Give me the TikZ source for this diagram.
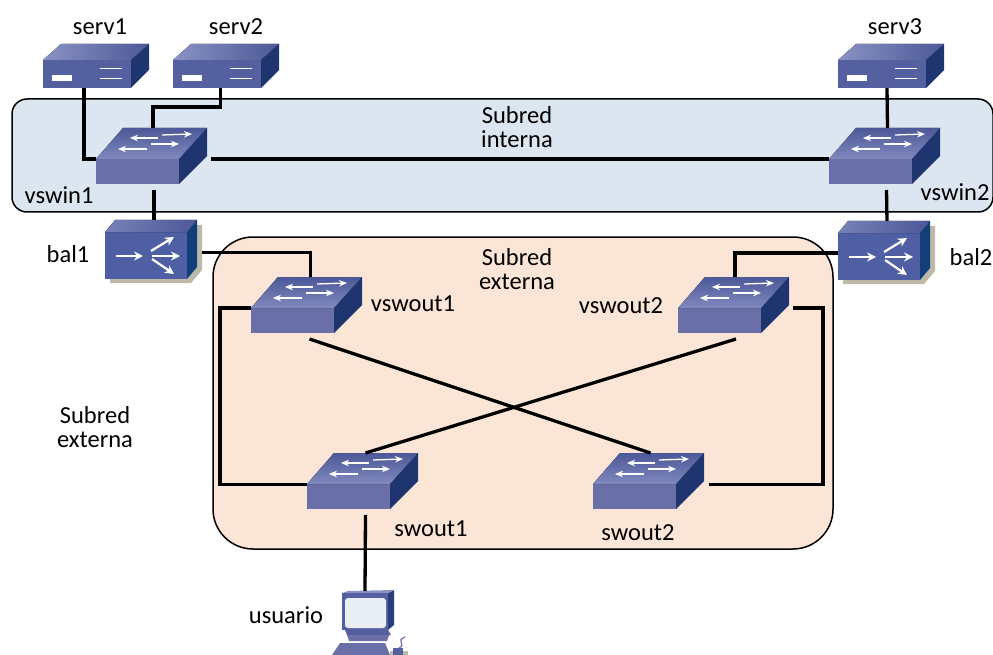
\documentclass[tikz,border=0pt]{standalone}
\usepackage{xcolor}
\usepackage{fontspec}
\setmainfont{Carlito}
\usepackage{tikz}
\usetikzlibrary{positioning,arrows.meta}
\definecolor{subint}{HTML}{DCE6F1}
\definecolor{subext}{HTML}{FBE5D6}
\definecolor{devfront}{HTML}{6A6FA8}
\definecolor{devfrontb}{HTML}{5560A0}
\definecolor{devtopa}{HTML}{8A92C4}
\definecolor{devtopb}{HTML}{4C5898}
\definecolor{devside}{HTML}{1F3570}
\definecolor{balfront}{HTML}{4F5FA3}
\definecolor{balside}{HTML}{123F7A}
\definecolor{devshadow}{HTML}{BDB9A8}
\definecolor{devscreen}{HTML}{E9EEF3}
\tikzset{
	wire/.style={draw=black,line width=3.3pt},
	region/.style={draw=black,line width=1.5pt,inner sep=0pt},
	lbl/.style={font=\fontsize{24.5}{24}\selectfont,inner sep=0pt,align=center},
	devnode/.style={inner sep=0pt,outer sep=0pt},
	whitearrow/.style={draw=white,line width=1.3pt,-{Stealth[length=8pt,width=6.5pt]}},
	bigarrow/.style={draw=white,line width=2.2pt,-{Stealth[length=9pt,width=9pt]}}
}
% name, top left corner of the icon
\newcommand{\myswitch}[2]{
	\begin{scope}[shift={(#2)}]
		\fill[devfront] (0,31) rectangle (83,56);
		\fill[top color=devtopb,bottom color=devtopa!85!devtopb] (0,31) -- (27,0) -- (111,0) -- (83,31) -- cycle;
		\fill[devside] (83,31) -- (111,0) -- (111,28) -- (83,56) -- cycle;
		\foreach \xa/\ya/\xb/\yb in {62/10/34/10, 66/7/96/6, 51/21/22/21, 55/16/83/16}
			\draw[whitearrow] (\xa,\ya) -- (\xb,\yb);
		\node[devnode,minimum width=111pt,minimum height=56pt] (#1) at (55.5,28) {};
	\end{scope}
}
\newcommand{\myserver}[2]{
	\begin{scope}[shift={(#2)}]
		\fill[devfrontb] (0,16) rectangle (88,44);
		\fill[left color=devtopa,right color=devtopb] (0,16) -- (18,0) -- (106,0) -- (88,16) -- cycle;
		\fill[devside] (88,16) -- (106,0) -- (106,26) -- (88,44) -- cycle;
		\fill[white] (9,31) rectangle (29,37);
		\foreach \ya in {25,35}
			\draw[white,line width=1pt] (57,\ya) -- (79,\ya);
		\node[devnode,minimum width=106pt,minimum height=44pt] (#1) at (53,22) {};
	\end{scope}
}
\newcommand{\mybal}[2]{
	\begin{scope}[shift={(#2)}]
		\fill[devshadow] (92,5) -- (97,5) -- (97,50) -- (86,63) -- (5,63) -- (5,59) -- cycle;
		\fill[balfront] (0,12) rectangle (82,59);
		\fill[left color=devtopa!70!devtopb,right color=devtopb] (0,12) -- (10,0) -- (92,0) -- (82,12) -- cycle;
		\fill[balside] (82,12) -- (92,0) -- (92,47) -- (82,59) -- cycle;
		\foreach \xa/\ya/\xb/\yb in {11/36/38/36, 46/31/69/17, 47/36/75/36, 47/39/69/54}
			\draw[bigarrow] (\xa,\ya) -- (\xb,\yb);
		\node[devnode,minimum width=92pt,minimum height=59pt] (#1) at (46,29.5) {};
	\end{scope}
}
\newcommand{\mypc}[2]{
	\begin{scope}[shift={(#2)}]
		\fill[devshadow] (47,60) rectangle (65,64);
		\fill[devside!80!devfrontb] (45,2) -- (51,-1) -- (51,34) -- (45,39) -- cycle;
		\fill[devtopa] (-1,2) -- (5,0) -- (51,-1) -- (45,2) -- cycle;
		\fill[devfrontb] (-1,2) rectangle (45,39);
		\fill[rounded corners=3pt,fill=devscreen] (2,7) rectangle (43,37);
		\fill[devfrontb] (2,39) -- (45,39) -- (48,44) -- (4,44) -- cycle;
		\fill[devfront] (4,44) -- (46,44) -- (44,50) -- (6,50) -- cycle;
		\fill[devfront] (-11,64) -- (-3,52) -- (42,52) -- (47,64) -- cycle;
		\fill[devfrontb] (50,57) rectangle (60,64);
		\draw[devfront,line width=1.2pt] (56,57) .. controls (64,53) and (52,50) .. (62,46);
		\node[devnode,minimum width=51pt,minimum height=64pt] (#1) at (25.5,32) {};
	\end{scope}
}
\begin{document}
\begin{tikzpicture}[x=1pt,y=-1pt]
	\useasboundingbox (0,0) rectangle (993,655);
	\node[region,fill=subint,rounded corners=15pt,minimum width=981pt,minimum height=113pt] (redint) at (502.5,155.5) {};
	\node[region,fill=subext,rounded corners=40pt,minimum width=620pt,minimum height=312pt] (redext) at (523,393) {};

	\myserver{serv1}{43,44}
	\myserver{serv2}{173,44}
	\myserver{serv3}{838,44}
	\myswitch{vswin1}{96,128}
	\myswitch{vswin2}{829,128}
	\myswitch{vswout1}{251,277}
	\myswitch{vswout2}{678,277}
	\myswitch{swout1}{307,453}
	\myswitch{swout2}{593,453}
	\mybal{bal1}{105,220}
	\mybal{bal2}{838,221}
	\mypc{usuario}{343,591}

	% top half
	\draw[wire] ([xshift=-12pt]serv1.south) |- ([yshift=-3pt]vswin1.west);
	\draw[wire] ([xshift=-5.5pt]serv2.south) |- (153,107) -- ([xshift=1.5pt]vswin1.north);
	\draw[wire] ([xshift=-4pt]serv3.south) -- ([xshift=3pt]vswin2.north);
	\draw[wire] ([shift={(4pt,-3pt)}]vswin1.east) -- ([yshift=-3pt]vswin2.west);
	\draw[wire] ([shift={(2.5pt,-6pt)}]vswin1.south) -- ([xshift=3pt]bal1.north);
	\draw[wire] ([shift={(2pt,-6pt)}]vswin2.south) -- ([xshift=3pt]bal2.north);
	\draw[wire] ([shift={(5pt,-3pt)}]bal1.east) -| ([xshift=4pt]vswout1.north);
	\draw[wire] ([yshift=-2.5pt]bal2.west) -| ([xshift=1.5pt]vswout2.north);

	% bottom half
	\draw[wire] ([yshift=-3pt]vswout1.west) -- (220,308) |- ([yshift=-3.5pt]swout1.west);
	\draw[wire] ([shift={(4pt,-3pt)}]vswout2.east) -- (823,308) |- ([shift={(5pt,-3.5pt)}]swout2.east);
	\draw[wire] ([shift={(3pt,-6pt)}]vswout1.south) -- ([xshift=2pt]swout2.north);
	\draw[wire] ([shift={(2.5pt,-6pt)}]vswout2.south) -- ([xshift=3pt]swout1.north);
	\draw[wire] ([shift={(3pt,-6pt)}]swout1.south) -- ([xshift=-3.5pt]usuario.north);

	\node[lbl] (serv1lbl) at (100,27) {serv1};
	\node[lbl] (serv2lbl) at (236,27) {serv2};
	\node[lbl] (serv3lbl) at (895,27) {serv3};
	\node[lbl] (vswin1lbl) at (59,195) {vswin1};
	\node[lbl] (vswin2lbl) at (955,192) {vswin2};
	\node[lbl] (bal1lbl) at (68,254) {bal1};
	\node[lbl] (bal2lbl) at (971,257) {bal2};
	\node[lbl] (vswout1lbl) at (413,304) {vswout1};
	\node[lbl] (vswout2lbl) at (621,306) {vswout2};
	\node[lbl] (swout1lbl) at (431,529) {swout1};
	\node[lbl] (swout2lbl) at (638,533) {swout2};
	\node[lbl] (usuariolbl) at (286,615) {usuario};
	\node[lbl] (subintlbl) at (517,127) {Subred\\interna};
	\node[lbl] (subextlbl) at (517,269) {Subred\\externa};
	\node[lbl] (subleftlbl) at (95,427) {Subred\\externa};
\end{tikzpicture}
\end{document}
